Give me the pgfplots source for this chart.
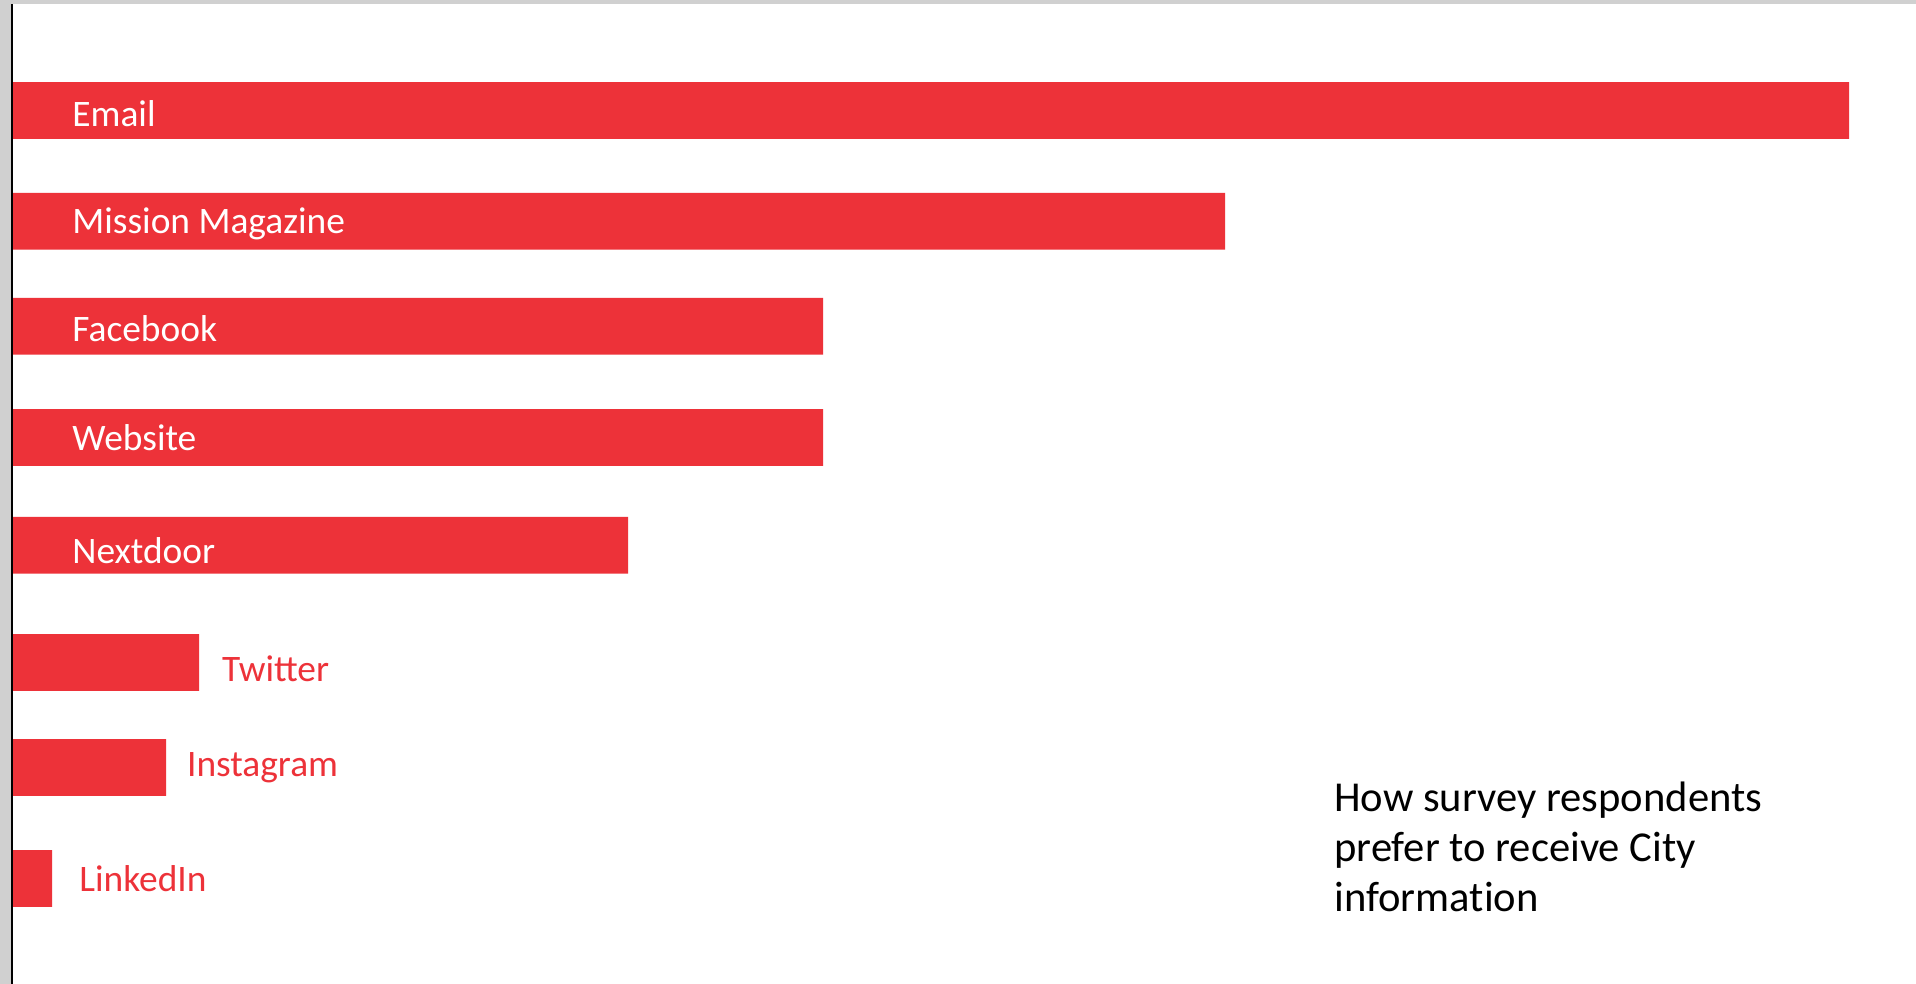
\documentclass[border=0pt]{standalone}
\usepackage{pgfplots}
\pgfplotsset{compat=1.18}
\usepackage{fontspec}
\setmainfont{Carlito}
\definecolor{barred}{RGB}{237,50,57}
\definecolor{framegray}{RGB}{208,208,208}
\begin{document}
\begin{tikzpicture}
\begin{axis}[
  scale only axis,
  width=958bp, height=492bp,
  xmin=-13, xmax=1903,
  ymin=0, ymax=984,
  y dir=reverse,
  axis lines=none,
  ticks=none,
  clip=false,
]
% background and frame
\fill[white] (axis cs:-13,0) rectangle (axis cs:1903,984);
\fill[framegray] (axis cs:-13,0) rectangle (axis cs:1903,4);
\fill[framegray] (axis cs:-13,4) rectangle (axis cs:-2,984);
\fill[black] (axis cs:-2,4) rectangle (axis cs:0,984);
% bars: (value, vertical position)
\addplot[xbar, bar width=56.7, fill=barred, draw=none] coordinates {
  (1836,110.5)
  (1212,221.3)
  (810,326.2)
  (810,437.5)
  (615,545.3)
  (186,662.5)
  (153,767.5)
  (39,878.5)
};
\tikzset{lbl/.style={anchor=base west, inner sep=0pt, font=\fontsize{18.7bp}{22bp}\selectfont}}
\node[lbl, text=white] at (axis cs:59,126.7) {Email};
\node[lbl, text=white] at (axis cs:59,233.3) {Mission Magazine};
\node[lbl, text=white] at (axis cs:59,341.7) {Facebook};
\node[lbl, text=white] at (axis cs:59,450.7) {Website};
\node[lbl, text=white] at (axis cs:59,563.3) {Nextdoor};
\node[lbl, text=barred] at (axis cs:208.7,681.7) {Twitter};
\node[lbl, text=barred] at (axis cs:173.7,776.7) {Instagram};
\node[lbl, text=barred] at (axis cs:66,891.7) {LinkedIn};
\node[anchor=base west, inner sep=0pt, align=left,
      font=\fontsize{21.3bp}{25bp}\selectfont, text=black]
  at (axis cs:1321,911.7) {How survey respondents\\prefer to receive City\\informat\kern0pt ion};
\end{axis}
\end{tikzpicture}
\end{document}
